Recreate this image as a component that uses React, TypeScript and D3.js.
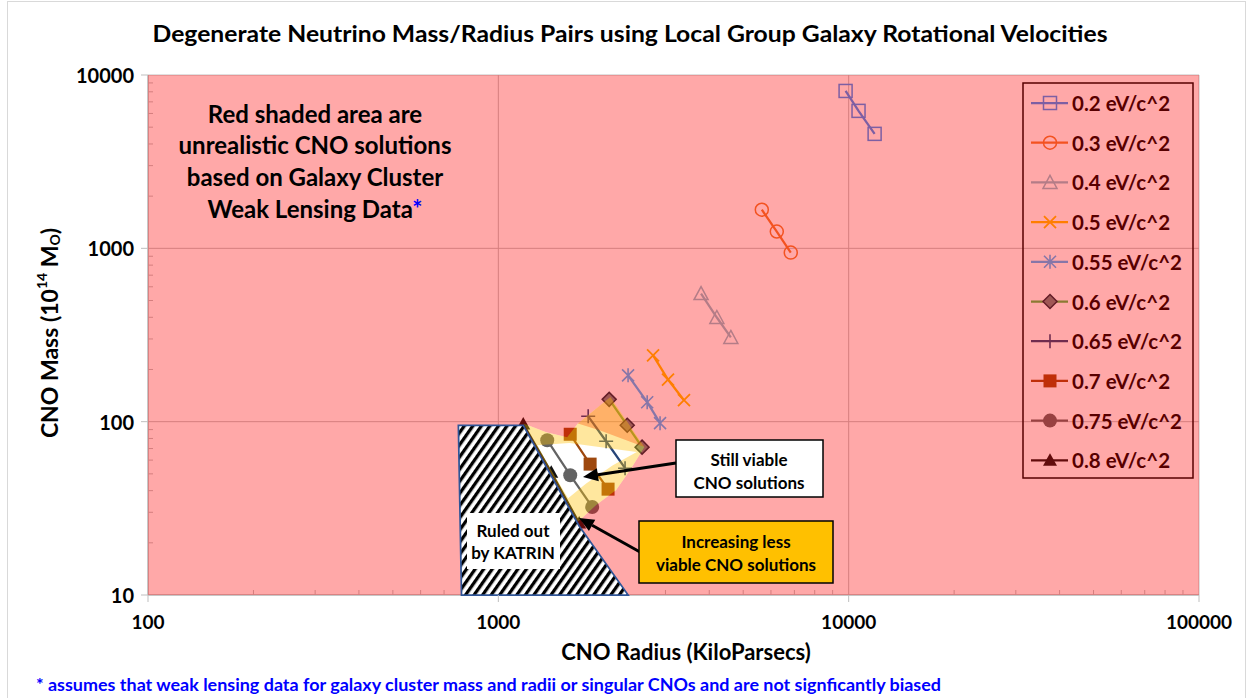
import React from "react";
import * as d3 from "d3";

// neutrino mass series (legend order)
const seriesNames = [
  "0.2 eV/c^2", "0.3 eV/c^2", "0.4 eV/c^2", "0.5 eV/c^2", "0.55 eV/c^2",
  "0.6 eV/c^2", "0.65 eV/c^2", "0.7 eV/c^2", "0.75 eV/c^2", "0.8 eV/c^2",
];
// CNO radius (kpc) per series
const radii = [
  [9800, 10670, 11860],
  [5650, 6235, 6835],
  [3790, 4205, 4610],
  [2765, 3050, 3388],
  [2346, 2660, 2895],
  [2072, 2333, 2572],
  [1805, 2031, 2300],
  [1604, 1828, 2057],
  [1379, 1604, 1853],
  [1178, 1416, 1701],
];
// CNO mass (1e14 Msun) per series
const masses = [
  [8090, 6210, 4575],
  [1670, 1250, 945],
  [548, 399, 306],
  [241, 175, 133],
  [185, 129.5, 98],
  [134.5, 95.3, 71.3],
  [107.4, 77.1, 53.9],
  [84.6, 56.9, 40.8],
  [78.2, 49.1, 32.2],
  [97, 51, 26],
];
const markerTypes = [
  "square", "circle", "triangle", "x", "star",
  "diamond", "plus", "squareFilled", "circleFilled", "triangleFilled",
];
const seriesColors = [
  "#3A90F8", "#ED7D31", "#8DBDCD", "#FFC000", "#49B3FF",
  "#50B94C", "#264478", "#9E480E", "#636363", "#111111",
];

const xTicks = [100, 1000, 10000, 100000];
const yTicks = [10, 100, 1000, 10000];

const noteLines = ["Red shaded area are", "unrealistic CNO solutions", "based on Galaxy Cluster"];

// shaded regions, [radius, mass]
const katrinRegion: [number, number][] = [
  [769, 95.3], [1178, 95.3], [1701, 25], [2347, 10], [785, 10],
];
const solutionRegion: [number, number][] = [
  [1180, 97.5], [1370, 86.9], [1572, 81.3], [1687, 97.5], [1801, 108.8],
  [2089, 138.7], [2611, 71.5], [2393, 53.7], [2169, 40.3], [1902, 33.0], [1687, 26.5],
];
const redOverlapRegion: [number, number][] = [
  [2089, 138.7], [1687, 97.5], [1944, 89.2], [2611, 71.5],
];
const viableBand: [number, number][] = [
  [1292, 73.1], [1596, 75.4], [1988, 70.9], [2484, 66.9], [2123, 56.1],
  [1781, 44.0], [1582, 36.2], [1416, 52.5],
];

const W = 1253;
const H = 698;
const FONT = "Lato, 'Open Sans', sans-serif";

const x = d3.scaleLog().domain([100, 100000]).range([148, 1199]);
const y = d3.scaleLog().domain([10, 10000]).range([595, 75]);

const line = d3.line<[number, number]>().x(d => x(d[0])).y(d => y(d[1]));
const poly = (pts: [number, number][]) => line(pts) + "Z";

function Marker({ type, cx, cy, color }: { type: string; cx: number; cy: number; color: string }) {
  const s = 6.5;
  switch (type) {
    case "square":
      return <rect x={cx - s} y={cy - s} width={s * 2} height={s * 2} fill="none" stroke={color} strokeWidth={1.5} />;
    case "circle":
      return <circle cx={cx} cy={cy} r={s} fill="none" stroke={color} strokeWidth={1.5} />;
    case "triangle":
      return <path d={`M${cx},${cy - 7}L${cx + 7},${cy + 6}L${cx - 7},${cy + 6}Z`} fill="none" stroke={color} strokeWidth={1.5} />;
    case "x":
      return <path d={`M${cx - 6},${cy - 6}L${cx + 6},${cy + 6}M${cx + 6},${cy - 6}L${cx - 6},${cy + 6}`} stroke={color} strokeWidth={1.8} />;
    case "star":
      return <path d={`M${cx - 6},${cy - 6}L${cx + 6},${cy + 6}M${cx + 6},${cy - 6}L${cx - 6},${cy + 6}M${cx},${cy - 7}L${cx},${cy + 7}`} stroke={color} strokeWidth={1.6} />;
    case "diamond":
      return <path d={`M${cx},${cy - 7}L${cx + 7},${cy}L${cx},${cy + 7}L${cx - 7},${cy}Z`} fill="#6F8581" stroke="#142D3C" strokeWidth={1.5} />;
    case "plus":
      return <path d={`M${cx - 7},${cy}L${cx + 7},${cy}M${cx},${cy - 7}L${cx},${cy + 7}`} stroke={color} strokeWidth={1.6} />;
    case "squareFilled":
      return <rect x={cx - s} y={cy - s} width={s * 2} height={s * 2} fill={color} />;
    case "circleFilled":
      return <circle cx={cx} cy={cy} r={7} fill={color} />;
    default:
      return <path d={`M${cx},${cy - 7}L${cx + 7},${cy + 5.5}L${cx - 7},${cy + 5.5}Z`} fill={color} />;
  }
}

function Arrow({ x1, y1, x2, y2 }: { x1: number; y1: number; x2: number; y2: number }) {
  const a = Math.atan2(y2 - y1, x2 - x1);
  const len = 15, half = 6.5;
  const bx = x2 - len * Math.cos(a), by = y2 - len * Math.sin(a);
  const p1 = [bx + half * Math.sin(a), by - half * Math.cos(a)];
  const p2 = [bx - half * Math.sin(a), by + half * Math.cos(a)];
  return (
    <g>
      <line x1={x1} y1={y1} x2={bx} y2={by} stroke="#000" strokeWidth={3} />
      <path d={`M${x2},${y2}L${p1[0]},${p1[1]}L${p2[0]},${p2[1]}Z`} fill="#000" />
    </g>
  );
}

export default function App() {
  const [x0, x1] = x.range();
  const [y0, y1] = y.range();
  const minorX = x.ticks().filter(t => !xTicks.includes(t));
  const minorY = y.ticks().filter(t => !yTicks.includes(t));
  const plotRect = `M${x0},${y1}H${x1}V${y0}H${x0}Z`;
  const legendX = 1023, legendY = 83, legendTop = 103, legendStep = 39.7;

  return (
    <svg width={W} height={H} style={{ position: "absolute", left: 0, top: 0, background: "#fff" }} fontFamily={FONT}>
      <defs>
        <pattern id="hatch" width="7" height="7" patternUnits="userSpaceOnUse" patternTransform="rotate(35)">
          <rect width="7" height="7" fill="#fff" />
          <rect width="3.3" height="7" fill="#000" />
        </pattern>
      </defs>
      <rect x={7.5} y={1.5} width={1238} height={720} fill="none" stroke="#D9D9D9" />

      {/* grid */}
      {xTicks.map(t => (
        <line key={"gx" + t} x1={x(t)} x2={x(t)} y1={y1} y2={y0} stroke="#C0C0C0" strokeWidth={1} />
      ))}
      {yTicks.map(t => (
        <line key={"gy" + t} x1={x0} x2={x1} y1={y(t)} y2={y(t)} stroke="#C0C0C0" strokeWidth={1} />
      ))}
      {minorX.map(t => (
        <line key={"mx" + t} x1={x(t)} x2={x(t)} y1={y0} y2={y0 - 5} stroke="#BFBFBF" />
      ))}
      {minorY.map(t => (
        <line key={"my" + t} x1={x0} x2={x0 + 5} y1={y(t)} y2={y(t)} stroke="#BFBFBF" />
      ))}
      <line x1={x0} x2={x0} y1={y1} y2={y0} stroke="#BFBFBF" strokeWidth={1.5} />
      <line x1={x0} x2={x1} y1={y0} y2={y0} stroke="#BFBFBF" strokeWidth={1.5} />

      {/* series */}
      {seriesNames.map((name, i) => {
        const pts = radii[i].map((r, j) => [r, masses[i][j]] as [number, number]);
        return (
          <g key={name}>
            <path d={line(pts) || ""} fill="none" stroke={seriesColors[i]} strokeWidth={2.25} />
            {pts.map((p, j) => (
              <Marker key={j} type={markerTypes[i]} cx={x(p[0])} cy={y(p[1])} color={seriesColors[i]} />
            ))}
          </g>
        );
      })}

      {/* legend */}
      <rect x={legendX} y={legendY} width={170} height={395} fill="none" stroke="#000" strokeWidth={1.5} />
      {seriesNames.map((name, i) => {
        const ly = legendTop + i * legendStep;
        return (
          <g key={"lg" + name}>
            <line x1={1031} x2={1068} y1={ly} y2={ly} stroke={seriesColors[i]} strokeWidth={2.25} />
            <Marker type={markerTypes[i]} cx={1050} cy={ly} color={seriesColors[i]} />
            <text x={1072} y={ly} dominantBaseline="central" fontSize={20.5} fontWeight="bold" fill="#000">{name}</text>
          </g>
        );
      })}

      {/* red shaded (unrealistic) overlay, open where solutions remain */}
      <path d={plotRect + poly(solutionRegion) + poly(redOverlapRegion)} fill="#FF0000" fillOpacity={0.34} fillRule="evenodd" />
      <path d={poly(solutionRegion) + poly(viableBand)} fill="#FFC000" fillOpacity={0.38} fillRule="evenodd" />

      {/* KATRIN exclusion */}
      <path d={poly(katrinRegion)} fill="url(#hatch)" stroke="#2F5597" strokeWidth={1.75} />
      <rect x={467} y={513} width={93} height={56} fill="#fff" />
      <text x={513} y={530} textAnchor="middle" dominantBaseline="central" fontSize={17} fontWeight="bold">Ruled out</text>
      <text x={513} y={552} textAnchor="middle" dominantBaseline="central" fontSize={17} fontWeight="bold">by KATRIN</text>

      {/* callouts */}
      <Arrow x1={676} y1={463} x2={583} y2={477} />
      <rect x={676} y={440} width={147} height={57} fill="#fff" stroke="#000" strokeWidth={1.5} />
      <text x={749} y={459} textAnchor="middle" dominantBaseline="central" fontSize={17} fontWeight="bold">Still viable</text>
      <text x={749} y={482} textAnchor="middle" dominantBaseline="central" fontSize={17} fontWeight="bold">CNO solutions</text>

      <Arrow x1={640} y1={552} x2={579} y2={518} />
      <rect x={639} y={521} width={194} height={62} fill="#FFC000" stroke="#000" strokeWidth={1.5} />
      <text x={736} y={541} textAnchor="middle" dominantBaseline="central" fontSize={17} fontWeight="bold">Increasing less</text>
      <text x={736} y={564} textAnchor="middle" dominantBaseline="central" fontSize={17} fontWeight="bold">viable CNO solutions</text>

      {/* note in plot */}
      {noteLines.map((t, i) => (
        <text key={t} x={315} y={113 + i * 31.7} textAnchor="middle" dominantBaseline="central" fontSize={24} fontWeight="bold">{t}</text>
      ))}
      <text x={315} y={208} textAnchor="middle" dominantBaseline="central" fontSize={24} fontWeight="bold">
        Weak Lensing Data<tspan fill="#0000FF">*</tspan>
      </text>

      {/* axes labels */}
      {xTicks.map(t => (
        <g key={"xt" + t}>
          <line x1={x(t)} x2={x(t)} y1={y0} y2={y0 + 7} stroke="#BFBFBF" />
          <text x={x(t)} y={621} textAnchor="middle" dominantBaseline="central" fontSize={19} fontWeight="bold">{t}</text>
        </g>
      ))}
      {yTicks.map(t => (
        <g key={"yt" + t}>
          <line x1={x0 - 7} x2={x0} y1={y(t)} y2={y(t)} stroke="#BFBFBF" />
          <text x={134} y={y(t)} textAnchor="end" dominantBaseline="central" fontSize={20} fontWeight="bold">{t}</text>
        </g>
      ))}

      <text x={630} y={33} textAnchor="middle" dominantBaseline="central" fontSize={22} fontWeight="bold"
        textLength={955} lengthAdjust="spacingAndGlyphs">
        Degenerate Neutrino Mass/Radius Pairs using Local Group Galaxy Rotational Velocities
      </text>
      <text x={686} y={651} textAnchor="middle" dominantBaseline="central" fontSize={22} fontWeight="bold">
        CNO Radius (KiloParsecs)
      </text>
      <text transform="translate(49,333) rotate(-90)" textAnchor="middle" dominantBaseline="central" fontSize={23} fontWeight="bold">
        CNO Mass (10<tspan dy={-8} fontSize={14}>14</tspan><tspan dy={8}> M</tspan><tspan dy={5} fontSize={14}>O</tspan><tspan dy={-5}>)</tspan>
      </text>
      <text x={36} y={685} dominantBaseline="central" fontSize={16.5} fontWeight="bold" fill="#0000FF"
        textLength={905} lengthAdjust="spacingAndGlyphs">
        * assumes that weak lensing data for galaxy cluster mass and radii or singular CNOs and are not signficantly biased
      </text>
    </svg>
  );
}
